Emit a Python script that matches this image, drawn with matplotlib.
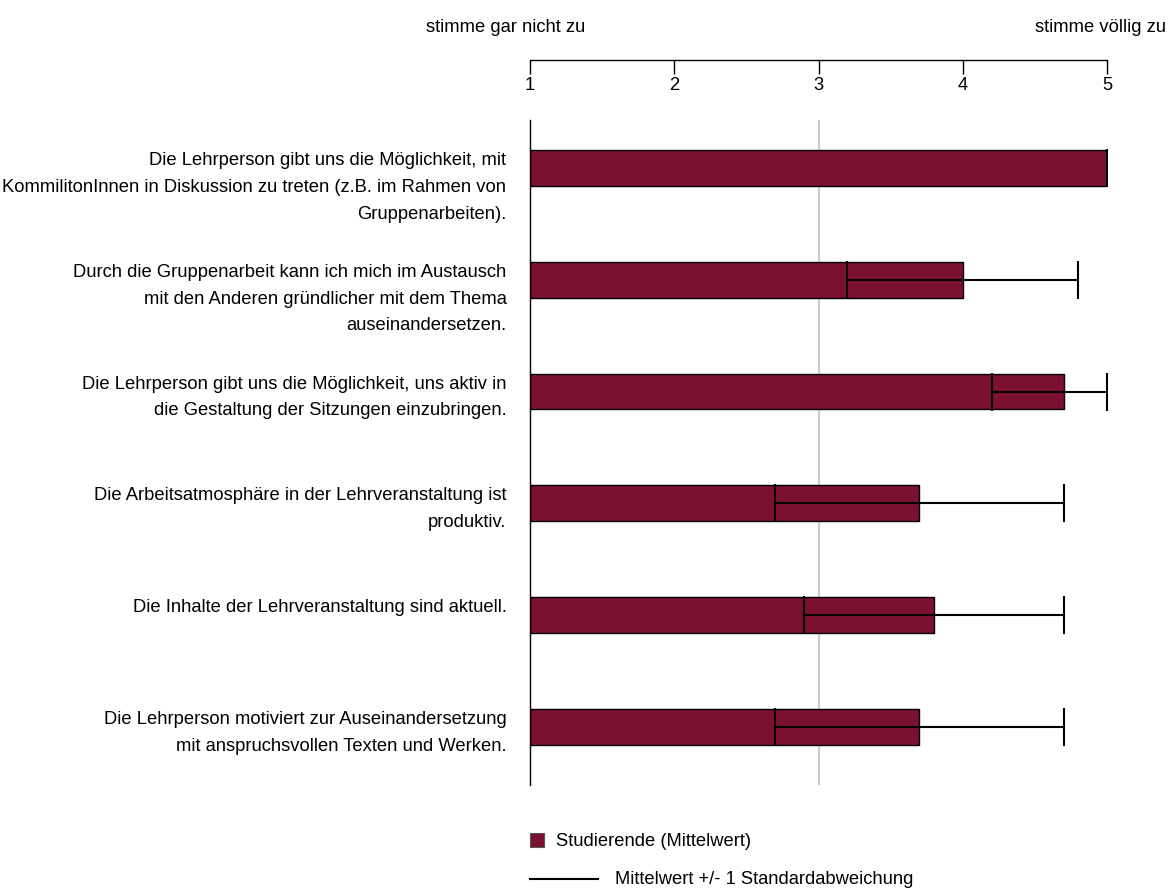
import matplotlib.pyplot as plt
from matplotlib.patches import Rectangle
from matplotlib.lines import Line2D
import numpy as np

plt.rcParams['font.family'] = ['Liberation Sans', 'DejaVu Sans']

# Items (top to bottom), means and standard deviations
items = [
    "Die Lehrperson gibt uns die Möglichkeit, mit\nKommilitonInnen in Diskussion zu treten (z.B. im Rahmen von\nGruppenarbeiten).",
    "Durch die Gruppenarbeit kann ich mich im Austausch\nmit den Anderen gründlicher mit dem Thema\nauseinandersetzen.",
    "Die Lehrperson gibt uns die Möglichkeit, uns aktiv in\ndie Gestaltung der Sitzungen einzubringen.",
    "Die Arbeitsatmosphäre in der Lehrveranstaltung ist\nproduktiv.",
    "Die Inhalte der Lehrveranstaltung sind aktuell.",
    "Die Lehrperson motiviert zur Auseinandersetzung\nmit anspruchsvollen Texten und Werken.",
]
means = [5.0, 4.0, 4.7, 3.7, 3.8, 3.7]
sds = [0.0, 0.8, 0.5, 1.0, 0.9, 1.0]
scale_ticks = [1, 2, 3, 4, 5]
scale_ends = ["stimme gar nicht zu", "stimme völlig zu"]

BAR_COLOR = '#7b1030'
W, H = 1168, 889
FS = 13.2

fig = plt.figure(figsize=(W / 100, H / 100), dpi=100)

left = 530 / W
width = (1107 - 530) / W
ax = fig.add_axes([left, 1 - 785 / H, width, 665 / H])

y = np.arange(len(items))
m = np.array(means)
sd = np.array(sds)
lower = sd
upper = np.minimum(m + sd, 5) - m

ax.axvline(3, color='#c0c0c0', lw=1.2, zorder=0)
ax.barh(y, m - 1, left=1, height=0.32, color=BAR_COLOR, edgecolor='black', linewidth=1, zorder=2)
ax.errorbar(m, y, xerr=[lower, upper], fmt='none', ecolor='black', elinewidth=1.5,
            capsize=14, capthick=1.5, zorder=3)

ax.set_xlim(1, 5)
ax.set_ylim(5.52, -0.43)
for s in ['top', 'right', 'bottom']:
    ax.spines[s].set_visible(False)
ax.spines['left'].set_linewidth(1)
ax.set_xticks([])
ax.set_yticks([])

# labels start roughly at the bar's top edge
for yi, label in zip(y, items):
    ax.annotate(label, xy=(0, yi), xycoords=ax.get_yaxis_transform(),
                xytext=(-17, 11.5), textcoords='offset points',
                ha='right', va='top', fontsize=FS, linespacing=1.75)

# scale axis at top
sc = fig.add_axes([left, 1 - 60 / H, width, 0.0001])
sc.set_xlim(1, 5)
sc.set_yticks([])
for s in ['top', 'right', 'left']:
    sc.spines[s].set_visible(False)
sc.spines['bottom'].set_linewidth(1)
sc.set_xticks(scale_ticks)
sc.tick_params(axis='x', direction='out', length=10, width=1, labelsize=FS, pad=2)
sc.patch.set_visible(False)

fig.text(506 / W, 1 - 28 / H, scale_ends[0], ha='center', va='center', fontsize=FS)
fig.text(1166 / W, 1 - 28 / H, scale_ends[1], ha='right', va='center', fontsize=FS)

# legend
fig.patches.append(Rectangle((530 / W, 1 - 847 / H), 14 / W, 14 / H, transform=fig.transFigure,
                             facecolor=BAR_COLOR, edgecolor='#555555', lw=0.8))
fig.text(556 / W, 1 - 841 / H, "Studierende (Mittelwert)", ha='left', va='center', fontsize=FS)
fig.lines.append(Line2D([530 / W, 598 / W], [1 - 879 / H, 1 - 879 / H], transform=fig.transFigure,
                        color='black', lw=1.5))
fig.text(615 / W, 1 - 879 / H, "Mittelwert +/- 1 Standardabweichung", ha='left', va='center', fontsize=FS)

fig.savefig('out.png', dpi=100)
